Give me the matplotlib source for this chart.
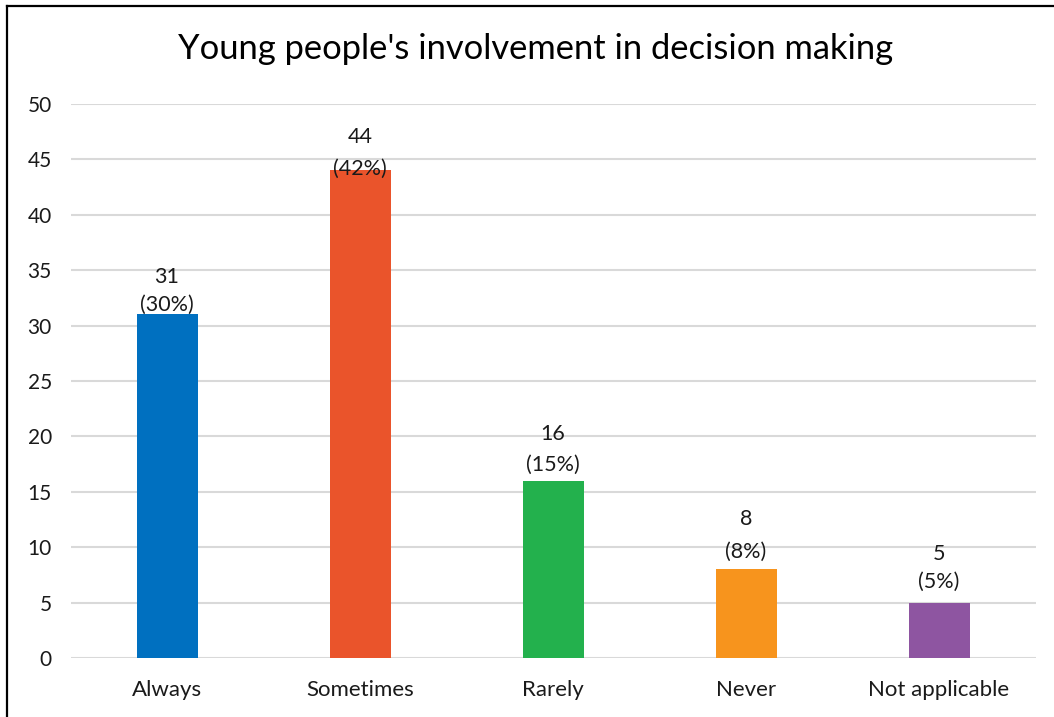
import matplotlib.pyplot as plt
from matplotlib.lines import Line2D

plt.rcParams['font.family'] = ['Lato', 'DejaVu Sans']

categories = ['Always', 'Sometimes', 'Rarely', 'Never', 'Not applicable']
counts = [31, 44, 16, 8, 5]
percents = [30, 42, 15, 8, 5]
colors = ['#0070C0', '#EA542B', '#23B14D', '#F7941D', '#8E55A1']

# label baselines above the bar top, in pixels (count line, percent line)
label_off = [(31.5, 4), (27, -4), (40.5, 9.5), (44, 11.5), (43, 14.5)]

fig = plt.figure(figsize=(10.54, 7.17), dpi=100)
ax = fig.add_axes([0.0669, 0.0823, 0.9156, 0.7727])

x = range(len(categories))
bars = ax.bar(x, counts, width=0.316, color=colors, zorder=3)

px = 72 / fig.dpi
for xi, c, p, (o1, o2) in zip(x, counts, percents, label_off):
    ax.annotate(f'{c}', (xi, c), xytext=(0, o1 * px), textcoords='offset points',
                ha='center', va='baseline', fontsize=15.5, color='#1a1a1a', zorder=4)
    ax.annotate(f'({p}%)', (xi, c), xytext=(0, o2 * px), textcoords='offset points',
                ha='center', va='baseline', fontsize=15.5, color='#1a1a1a', zorder=4)

ax.set_xlim(-0.5, len(categories) - 0.5)
ax.set_ylim(0, 50)
ax.set_yticks(range(0, 51, 5))
ax.set_xticks(list(x))
ax.set_xticklabels(categories)
ax.tick_params(axis='both', length=0, colors='#1a1a1a')
ax.tick_params(axis='y', pad=13.5, labelsize=15)
ax.tick_params(axis='x', pad=16, labelsize=16)
ax.yaxis.grid(True, color='#D9D9D9', linewidth=1.5, zorder=0)
for s in ax.spines.values():
    s.set_visible(False)

fig.text(535.5 / 1054, 1 - 59 / 717, "Young people's involvement in decision making",
         ha='center', va='baseline', fontsize=24.8, color='#000000')

# frame edges around the chart
fig.add_artist(Line2D([6.5 / 1054, 6.5 / 1054], [0, 1 - 5.5 / 717],
                      transform=fig.transFigure, color='black', linewidth=1.6))
fig.add_artist(Line2D([6.5 / 1054, 1], [1 - 5.5 / 717, 1 - 5.5 / 717],
                      transform=fig.transFigure, color='black', linewidth=1.6))

fig.savefig('out.png', dpi=100)
